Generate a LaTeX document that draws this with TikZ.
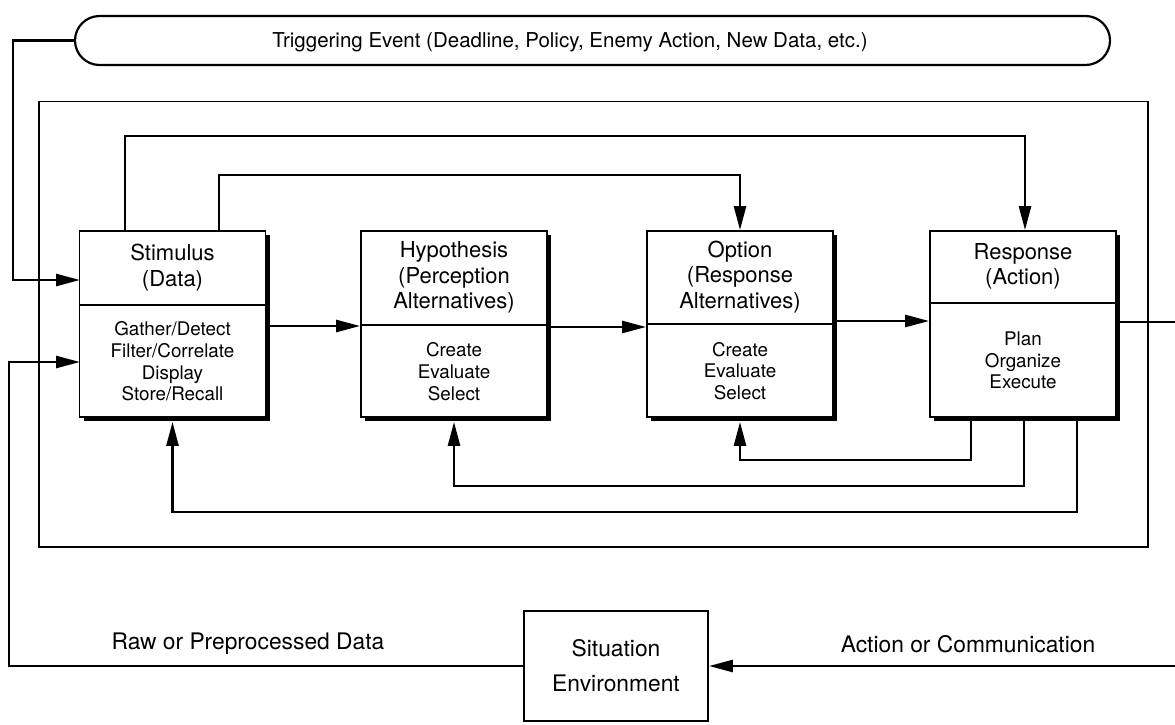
\documentclass[tikz,border=0pt]{standalone}
\usepackage{fontspec}
\setmainfont{TeX Gyre Heros}
\usetikzlibrary{arrows.meta,calc,shapes.misc,shadows}

\begin{document}
\begin{tikzpicture}[x=1pt,y=-1pt,
  conn/.style={line width=2.6pt},
  arr/.style={conn,-{Triangle[length=24pt,width=12pt]}},
  thinline/.style={line width=1.8pt},
  procbox/.style={draw,line width=1.8pt,fill=white,minimum width=186pt,
    minimum height=186pt,inner sep=0pt,
    drop shadow={shadow xshift=4pt,shadow yshift=-4pt,opacity=1,fill=black}},
  titletext/.style={align=center,inner sep=0pt,font=\fontsize{22}{25.5}\selectfont},
  bodytext/.style={align=center,inner sep=0pt,font=\fontsize{18.8}{21.7}\selectfont},
  lbl/.style={inner sep=0pt,font=\fontsize{22.8}{26}\selectfont},
  banner/.style={draw,rounded rectangle,line width=2.2pt,minimum width=1035pt,
    minimum height=49pt,inner sep=0pt},
  sitbox/.style={draw,line width=1.8pt,fill=white,minimum width=184pt,
    minimum height=110pt,align=center,inner sep=0pt,
    font=\fontsize{22.8}{35}\selectfont},
]
\fill[white] (0,0) rectangle (1175,724);
\useasboundingbox (0,0) rectangle (1175,724);

% a process box: name, centre x, divider y, heading, activities
\newcommand{\procnode}[5]{%
  \node[procbox] (#1) at (#2,324) {};
  \coordinate (#1-div) at (#2,#3);
  \draw[thinline] (#1.west |- #1-div) -- (#1.east |- #1-div);
  \node[titletext] (#1-title) at ($(#1.north)!0.5!(#1-div)$) {#4};
  \node[bodytext] (#1-body) at ($(#1-div)!0.5!(#1.south)$) {#5};
}

% triggering event banner
\node[banner] (trig) at (592.5,40.5) {};
\node[inner sep=0pt,font=\fontsize{20.5}{24}\selectfont] (trigtext) at (570,42)
  {Triggering Event (Deadline, Policy, Enemy Action, New Data, etc.)};

% outer loop
\node[draw,thinline,minimum width=1109pt,minimum height=445.5pt,inner sep=0pt]
  (loop) at (593.5,324.25) {};

% the four stages
\procnode{stim}{172.5}{305}{Stimulus\\(Data)}{Gather/Detect\\Filter/Correlate\\Display\\Store/Recall}
\procnode{hyp}{454}{325}{Hypothesis\\(Perception\\Alternatives)}{Create\\Evaluate\\Select}
\procnode{opt}{740}{324}{Option\\(Response\\Alternatives)}{Create\\Evaluate\\Select}
\procnode{resp}{1023}{303}{Response\\(Action)}{Plan\\Organize\\Execute}

% situation / environment
\node[sitbox] (sit) at (616,666) {Situation\\Environment};

% forward flow
\draw[arr] ([yshift=-2pt]stim.east) -- ([yshift=-2pt]hyp.west);
\draw[arr] ([yshift=-3pt]hyp.east) -- ([yshift=-3pt]opt.west);
\draw[arr] ([yshift=3pt]opt.east) -- ([yshift=3pt]resp.west);
\coordinate (respout) at (1175,322);
\draw[conn] (resp.east |- respout) -- (respout);

% skip-ahead paths over the top
\coordinate (t2a) at (125,136);
\coordinate (t2b) at (1025,136);
\draw[arr] (stim.north -| t2a) -- (t2a) -- (t2b) -- (resp.north -| t2b);
\coordinate (t3a) at (219,175);
\coordinate (t3b) at (740,175);
\draw[arr] (stim.north -| t3a) -- (t3a) -- (t3b) -- (opt.north -| t3b);

% feedback paths underneath
\coordinate (f1) at (971,460);
\draw[arr] (resp.south -| f1) -- (f1) -| ([yshift=-4pt]opt.south);
\coordinate (f2) at (1024,486);
\draw[arr] (resp.south -| f2) -- (f2) -| ([yshift=-4pt]hyp.south);
\coordinate (f3) at (1077,512);
\draw[arr] (resp.south -| f3) -- (f3) -| ([yshift=-4pt]stim.south);

% triggering event into stimulus
\coordinate (stimA) at (80,280);
\draw[arr] (trig.west) -- ++(-61,0) |- (stimA);

% environment data into stimulus
\coordinate (stimB) at (80,362);
\draw[arr] (sit.west) -- ++(-514,0) |- (stimB);
\node[lbl] (rawlbl) at (248,644) {Raw or Preprocessed Data};

% action back to the environment
\coordinate (actin) at (1175,666);
\draw[arr] (actin) -- (sit.east);
\node[lbl] (actlbl) at (968,644) {Action or Communication};
\end{tikzpicture}
\end{document}
